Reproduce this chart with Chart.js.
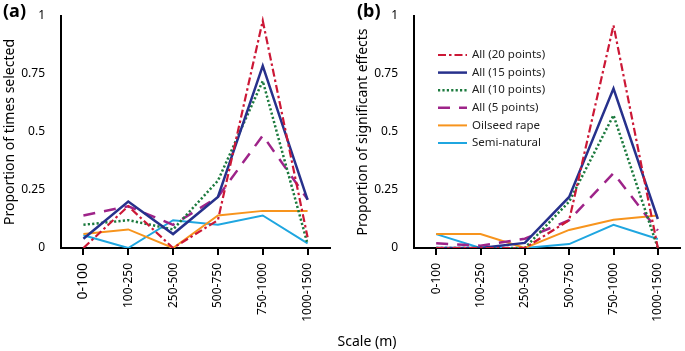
<!DOCTYPE html>
<html lang="en">
<head>
<meta charset="UTF-8">
<title>Proportion by scale</title>
<script src="https://cdn.jsdelivr.net/npm/chart.js@4.4.1/dist/chart.umd.min.js"></script>
<style>
  body { margin: 0; background: #fff; width: 685px; height: 351px; overflow: hidden; position: relative; font-family: "Noto Sans", sans-serif; }
  canvas { position: absolute; top: 0; }
  #chartA { left: 0; }
  #chartB { left: 353px; }
  .panel { position: absolute; top: -2px; font-weight: bold; font-size: 18px; color: #000; }
  #xtitle { position: absolute; left: 0; width: 734px; top: 331px; text-align: center; font-size: 14px; color: #000; }
</style>
</head>
<body>
<canvas id="chartA" width="340" height="335"></canvas>
<canvas id="chartB" width="332" height="335"></canvas>
<div class="panel" style="left:3px">(a)</div>
<div class="panel" style="left:357px">(b)</div>
<div id="xtitle">Scale (m)</div>

<script>
  const categories = ['0-100', '100-250', '250-500', '500-750', '750-1000', '1000-1500'];
  const yTicks = [0, 0.25, 0.5, 0.75, 1];
  const yTickLabels = ['0', '0.25', '0.5', '0.75', '1'];

  // (a) proportion of times selected
  const all20A = [0, 0.18, 0, 0.12, 0.98, 0.046];
  const all15A = [0.04, 0.20, 0.06, 0.22, 0.785, 0.207];
  const all10A = [0.10, 0.12, 0.08, 0.29, 0.72, 0.017];
  const all5A  = [0.14, 0.18, 0.10, 0.22, 0.485, 0.21];
  const oilA   = [0.06, 0.08, 0, 0.14, 0.16, 0.16];
  const semiA  = [0.055, 0, 0.12, 0.10, 0.14, 0.02];

  // (b) proportion of significant effects
  const all20B = [0, 0, 0, 0.12, 0.96, 0];
  const all15B = [0, 0, 0.022, 0.22, 0.687, 0.125];
  const all10B = [0, 0, 0, 0.20, 0.572, 0];
  const all5B  = [0.02, 0.01, 0.04, 0.12, 0.323, 0.075];
  const oilB   = [0.06, 0.06, 0, 0.078, 0.122, 0.14];
  const semiB  = [0.06, 0, 0, 0.017, 0.10, 0.039];

  const FONT = '"Noto Sans", "Open Sans", sans-serif';

  function makeSets(s20, s15, s10, s5, oil, semi) {
    const base = { pointRadius: 0, tension: 0, fill: false };
    return [
      { ...base, label: 'All (20 points)', data: s20, borderColor: '#cc1836', borderWidth: 2.2, borderDash: [8, 3, 2.5, 3] },
      { ...base, label: 'All (15 points)', data: s15, borderColor: '#27318c', borderWidth: 2.5 },
      { ...base, label: 'All (10 points)', data: s10, borderColor: '#1c7a3e', borderWidth: 2.5, borderDash: [2.2, 2.2] },
      { ...base, label: 'All (5 points)', data: s5, borderColor: '#9e2489', borderWidth: 2.5, borderDash: [12, 9] },
      { ...base, label: 'Oilseed rape', data: oil, borderColor: '#f7941d', borderWidth: 2 },
      { ...base, label: 'Semi-natural', data: semi, borderColor: '#1fa6e0', borderWidth: 2 }
    ];
  }

  // legend drawn inside panel (b)
  const legendPlugin = {
    id: 'insideLegend',
    afterDraw(chart, args, opts) {
      if (!opts.show) return;
      const ctx = chart.ctx;
      ctx.save();
      ctx.font = '11.5px ' + FONT;
      ctx.textBaseline = 'middle';
      chart.data.datasets.forEach((ds, i) => {
        const y = opts.y + i * opts.step;
        ctx.beginPath();
        ctx.strokeStyle = ds.borderColor;
        ctx.lineWidth = ds.borderWidth;
        ctx.setLineDash(ds.borderDash || []);
        ctx.moveTo(opts.x, y);
        ctx.lineTo(opts.x + 29, y);
        ctx.stroke();
        ctx.setLineDash([]);
        ctx.fillStyle = '#222';
        ctx.fillText(ds.label, opts.x + 34, y);
      });
      ctx.restore();
    }
  };

  function makeChart(id, sets, yTitle, firstBig, legend, rightPad) {
    new Chart(document.getElementById(id), {
      type: 'line',
      data: { labels: categories, datasets: sets },
      options: {
        responsive: false,
        animation: false,
        layout: { padding: { top: 16, right: rightPad, left: 0, bottom: 0 } },
        plugins: {
          legend: { display: false },
          tooltip: { enabled: false },
          insideLegend: legend
        },
        scales: {
          x: {
            offset: true,
            grid: { drawOnChartArea: false, drawTicks: true, tickLength: 7, color: '#000', lineWidth: 2 },
            border: { display: true, color: '#000', width: 2 },
            ticks: {
              autoSkip: false, minRotation: 90, maxRotation: 90, padding: 8, color: '#000',
              font: c => ({ family: FONT, size: (firstBig && c.index === 0) ? 14 : 12 })
            },
            afterFit(scale) { scale.height = 87; }
          },
          y: {
            min: 0, max: 1,
            afterBuildTicks(scale) { scale.ticks = yTicks.map(v => ({ value: v })); },
            grid: { display: false },
            border: { display: true, color: '#000', width: 2 },
            ticks: {
              padding: 8, color: '#000', font: { family: FONT, size: 12 },
              callback: v => yTickLabels[yTicks.indexOf(v)]
            },
            title: { display: true, text: yTitle, color: '#000', font: { family: FONT, size: 14 }, padding: { top: 2, bottom: 0 } },
            afterFit(scale) { scale.width = 61; }
          }
        }
      },
      plugins: [legendPlugin]
    });
  }

  makeChart('chartA', makeSets(all20A, all15A, all10A, all5A, oilA, semiA),
    'Proportion of times selected', true, { show: false }, 10);
  makeChart('chartB', makeSets(all20B, all15B, all10B, all5B, oilB, semiB),
    'Proportion of significant effects', false, { show: true, x: 85, y: 55, step: 17.6 }, 5);
</script>
</body>
</html>
